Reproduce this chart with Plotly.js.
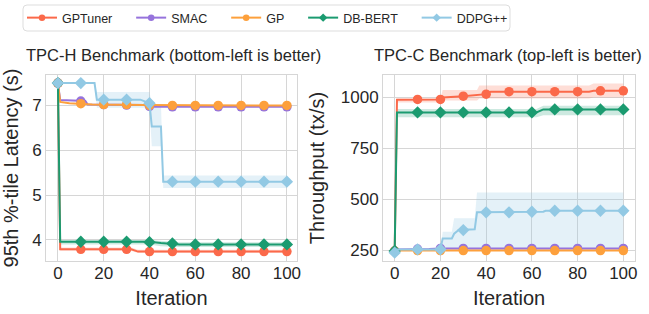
<!DOCTYPE html>
<html>
<head>
<meta charset="utf-8">
<script src="https://cdn.plot.ly/plotly-3.0.1.min.js"></script>
<style>html,body{margin:0;padding:0;background:#fff;}#chart{width:649px;height:314px;}</style>
</head>
<body>
<div id="chart"></div>
<script>
// ---------- data ----------
const seriesNames = ["GPTuner", "SMAC", "GP", "DB-BERT", "DDPG++"];
const markIters = [0, 10, 20, 30, 40, 50, 60, 70, 80, 90, 100];

// TPC-H (latency, s)
const tpchGPTunerMarks = [7.5, 3.79, 3.79, 3.79, 3.74, 3.74, 3.74, 3.74, 3.74, 3.74, 3.74];
const tpchGPTunerX = [0, 1, 32, 35, 100];
const tpchGPTunerY = [7.5, 3.79, 3.79, 3.74, 3.74];
const tpchGPTunerBandX = [0, 1, 32, 35, 100];
const tpchGPTunerBandLo = [7.5, 3.76, 3.76, 3.71, 3.71];
const tpchGPTunerBandHi = [7.5, 3.83, 3.83, 3.78, 3.78];

const tpchSMACMarks = [7.5, 7.10, 7.02, 7.01, 6.98, 6.97, 6.97, 6.97, 6.97, 6.97, 6.97];
const tpchSMACX = [0, 1, 12, 13, 38, 40, 100];
const tpchSMACY = [7.5, 7.12, 7.10, 7.02, 7.01, 6.97, 6.97];

const tpchGPMarks = [7.5, 7.04, 7.02, 7.02, 7.0, 7.0, 7.0, 7.0, 7.0, 7.0, 7.0];
const tpchGPX = [0, 1, 5, 15, 38, 100];
const tpchGPY = [7.5, 7.08, 7.05, 7.02, 7.01, 7.0];

const tpchDBBERTMarks = [7.5, 3.96, 3.96, 3.96, 3.95, 3.92, 3.90, 3.90, 3.90, 3.90, 3.90];
const tpchDBBERTX = [0, 1, 40, 45, 53, 100];
const tpchDBBERTY = [7.5, 3.96, 3.96, 3.93, 3.90, 3.90];
const tpchDBBERTBandLo = [7.5, 3.90, 3.90, 3.86, 3.84, 3.84];
const tpchDBBERTBandHi = [7.5, 4.00, 4.00, 3.98, 3.95, 3.95];

const tpchDDPGMarks = [7.5, 7.5, 7.13, 7.13, 7.05, 5.30, 5.30, 5.30, 5.30, 5.30, 5.30];
const tpchDDPGX = [0, 16, 17, 36, 40, 41, 45, 46, 100];
const tpchDDPGY = [7.5, 7.5, 7.13, 7.13, 7.05, 6.53, 6.53, 5.30, 5.30];
const tpchDDPGBandX = [0, 16, 17, 40, 41, 45, 46, 100];
const tpchDDPGBandLo = [7.5, 7.5, 6.95, 6.95, 6.09, 6.09, 5.16, 5.16];
const tpchDDPGBandHi = [7.5, 7.5, 7.30, 7.30, 7.02, 7.02, 5.44, 5.44];

// TPC-C (throughput, tx/s)
const tpccGPTunerMarks = [245, 990, 990, 1006, 1016, 1028, 1028, 1028, 1028, 1032, 1032];
const tpccGPTunerX = [0, 1, 20, 21, 30, 36, 40, 42, 85, 87, 100];
const tpccGPTunerY = [245, 988, 990, 1000, 1006, 1012, 1016, 1028, 1028, 1032, 1032];
const tpccGPTunerBandX = [0, 1, 20, 21, 36, 37, 85, 87, 100];
const tpccGPTunerBandLo = [245, 975, 975, 985, 985, 995, 995, 1000, 1000];
const tpccGPTunerBandHi = [245, 995, 995, 1036, 1036, 1058, 1058, 1068, 1068];

const tpccSMACMarks = [245, 255, 258, 258, 258, 258, 258, 258, 258, 258, 258];
const tpccSMACX = [0, 1, 15, 20, 100];
const tpccSMACY = [245, 252, 255, 258, 258];

const tpccGPMarks = [245, 247, 247, 247, 247, 247, 247, 247, 247, 247, 247];
const tpccGPX = [0, 1, 100];
const tpccGPY = [245, 247, 247];

const tpccDBBERTMarks = [245, 926, 926, 926, 926, 926, 926, 941, 941, 941, 941];
const tpccDBBERTX = [0, 1, 62, 65, 100];
const tpccDBBERTY = [245, 926, 926, 941, 941];
const tpccDBBERTBandLo = [245, 902, 902, 912, 912];
const tpccDBBERTBandHi = [245, 943, 943, 959, 959];

const tpccDDPGMarks = [237, 253, 253, 348, 435, 435, 438, 443, 443, 443, 443];
const tpccDDPGX = [0, 1, 20, 21, 25, 26, 28, 35, 36, 55, 56, 65, 66, 100];
const tpccDDPGY = [237, 253, 253, 307, 307, 330, 348, 352, 435, 435, 438, 438, 443, 443];
const tpccDDPGBandX = [0, 1, 20, 21, 25, 26, 35, 36, 100];
const tpccDDPGBandLo = [237, 245, 245, 250, 250, 250, 250, 250, 250];
const tpccDDPGBandHi = [237, 253, 253, 340, 340, 406, 406, 533, 533];

const xTicks = [0, 20, 40, 60, 80, 100];
const tpchYTicks = [4, 5, 6, 7];
const tpccYTicks = [250, 500, 750, 1000];

// ---------- styles ----------
const colors = ["#fb694a", "#9673dc", "#fda03c", "#1b9b70", "#92c9e4"];
const bandColors = ["rgba(251,105,74,0.22)", "rgba(150,115,220,0.22)", "rgba(253,160,60,0.22)", "rgba(27,155,112,0.22)", "rgba(146,201,228,0.25)"];
const symbols = ["circle", "circle", "circle", "diamond", "diamond"];
const msize = [9.5, 9.5, 9.5, 9.5, 9.5];
const legendMsize = [6.5, 6.5, 6.5, 6.5, 6.5];
const FONT = "Liberation Sans, Arial, Helvetica, sans-serif";
const TXT = "#262626";

const traces = [];
function band(i, x, lo, hi, xa, ya) {
  traces.push({x: x, y: lo, xaxis: xa, yaxis: ya, mode: "lines", line: {width: 0, color: bandColors[i]}, showlegend: false, hoverinfo: "skip"});
  traces.push({x: x, y: hi, xaxis: xa, yaxis: ya, mode: "lines", line: {width: 0, color: bandColors[i]}, fill: "tonexty", fillcolor: bandColors[i], showlegend: false, hoverinfo: "skip"});
}
function series(i, lx, ly, marks, xa, ya) {
  traces.push({x: lx, y: ly, xaxis: xa, yaxis: ya, mode: "lines", line: {width: 2, color: colors[i]}, showlegend: false, hoverinfo: "skip"});
  traces.push({x: markIters, y: marks, xaxis: xa, yaxis: ya, mode: "markers", marker: {size: msize[i], symbol: symbols[i], color: colors[i]}, showlegend: false, hoverinfo: "skip"});
}

// bands first
band(0, tpchGPTunerBandX, tpchGPTunerBandLo, tpchGPTunerBandHi, "x", "y");
band(3, tpchDBBERTX, tpchDBBERTBandLo, tpchDBBERTBandHi, "x", "y");
band(4, tpchDDPGBandX, tpchDDPGBandLo, tpchDDPGBandHi, "x", "y");
band(0, tpccGPTunerBandX, tpccGPTunerBandLo, tpccGPTunerBandHi, "x2", "y2");
band(3, tpccDBBERTX, tpccDBBERTBandLo, tpccDBBERTBandHi, "x2", "y2");
band(4, tpccDDPGBandX, tpccDDPGBandLo, tpccDDPGBandHi, "x2", "y2");

series(0, tpchGPTunerX, tpchGPTunerY, tpchGPTunerMarks, "x", "y");
series(1, tpchSMACX, tpchSMACY, tpchSMACMarks, "x", "y");
series(2, tpchGPX, tpchGPY, tpchGPMarks, "x", "y");
series(3, tpchDBBERTX, tpchDBBERTY, tpchDBBERTMarks, "x", "y");
series(4, tpchDDPGX, tpchDDPGY, tpchDDPGMarks, "x", "y");

series(0, tpccGPTunerX, tpccGPTunerY, tpccGPTunerMarks, "x2", "y2");
series(1, tpccSMACX, tpccSMACY, tpccSMACMarks, "x2", "y2");
series(2, tpccGPX, tpccGPY, tpccGPMarks, "x2", "y2");
series(3, tpccDBBERTX, tpccDBBERTY, tpccDBBERTMarks, "x2", "y2");
series(4, tpccDDPGX, tpccDDPGY, tpccDDPGMarks, "x2", "y2");

// legend entries
const pad = "\u00a0\u00a0\u00a0\u00a0";
seriesNames.forEach(function (n, i) {
  traces.push({x: [null], y: [null], xaxis: "x", yaxis: "y", name: n + (i < seriesNames.length - 1 ? pad : ""), mode: "lines+markers",
    line: {width: 2, color: colors[i]}, marker: {size: legendMsize[i], symbol: symbols[i], color: colors[i]}, showlegend: true, hoverinfo: "skip"});
});

// rounded legend frame (paper coordinates)
const PW = 589, PH = 186;
const X0 = (23 - 46) / PW, X1 = (510 - 46) / PW, Y0 = 1 + (75 - 31) / PH, Y1 = 1 + (75 - 5) / PH;
const RX = 4 / PW, RY = 4 / PH;
const framePath = "M" + (X0 + RX) + "," + Y1 + " L" + (X1 - RX) + "," + Y1 + " Q" + X1 + "," + Y1 + " " + X1 + "," + (Y1 - RY) +
  " L" + X1 + "," + (Y0 + RY) + " Q" + X1 + "," + Y0 + " " + (X1 - RX) + "," + Y0 +
  " L" + (X0 + RX) + "," + Y0 + " Q" + X0 + "," + Y0 + " " + X0 + "," + (Y0 + RY) +
  " L" + X0 + "," + (Y1 - RY) + " Q" + X0 + "," + Y1 + " " + (X0 + RX) + "," + Y1 + " Z";

const axBase = {showgrid: true, gridcolor: "#d6d6d6", gridwidth: 1, zeroline: false, showline: true, mirror: true,
  linecolor: "#d6d6d6", linewidth: 1, ticks: "", tickfont: {family: FONT, size: 17, color: TXT}};

const layout = {
  width: 649, height: 314,
  margin: {l: 46, r: 14, t: 75, b: 53, pad: 0},
  paper_bgcolor: "#ffffff", plot_bgcolor: "#ffffff",
  font: {family: FONT, color: TXT},
  showlegend: true,
  legend: {orientation: "h", traceorder: "normal", xref: "container", yref: "container",
    x: 22 / 649, xanchor: "left", y: 1 - 18 / 314, yanchor: "middle",
    font: {family: FONT, size: 12.5, color: TXT}, borderwidth: 0, bgcolor: "rgba(0,0,0,0)"},
  shapes: [
    {type: "path", xref: "paper", yref: "paper", path: framePath, line: {color: "#dddddd", width: 1}, fillcolor: "#ffffff", layer: "below"}
  ],
  xaxis: Object.assign({}, axBase, {domain: [0, 0.4261], range: [-5.2, 104.4], tickvals: xTicks, ticklabelstandoff: -3,
    title: {text: "Iteration", font: {family: FONT, size: 20, color: TXT}, standoff: 8}}),
  yaxis: Object.assign({}, axBase, {domain: [0, 1], range: [3.53, 7.68], tickvals: tpchYTicks,
    title: {text: "95th %-tile Latency (s)", font: {family: FONT, size: 20, color: TXT}, standoff: 8}}),
  xaxis2: Object.assign({}, axBase, {domain: [0.5722, 1], range: [-5.1, 105.1], tickvals: xTicks, anchor: "y2", ticklabelstandoff: -3,
    title: {text: "Iteration", font: {family: FONT, size: 20, color: TXT}, standoff: 8}}),
  yaxis2: Object.assign({}, axBase, {domain: [0, 1], range: [196, 1110], tickvals: tpccYTicks, anchor: "x2",
    title: {text: "Throughput (tx/s)", font: {family: FONT, size: 20, color: TXT}, standoff: 10}}),
  annotations: [
    {text: "TPC-H Benchmark (bottom-left is better)", xref: "paper", yref: "paper", x: 0.2165, y: 1 + (75 - 55) / 186,
      xanchor: "center", yanchor: "middle", showarrow: false, font: {family: FONT, size: 16.5, color: TXT}},
    {text: "TPC-C Benchmark (top-left is better)", xref: "paper", yref: "paper", x: 0.7844, y: 1 + (75 - 55) / 186,
      xanchor: "center", yanchor: "middle", showarrow: false, font: {family: FONT, size: 16.5, color: TXT}}
  ]
};

Plotly.newPlot("chart", traces, layout, {staticPlot: true, displayModeBar: false});
</script>
</body>
</html>
